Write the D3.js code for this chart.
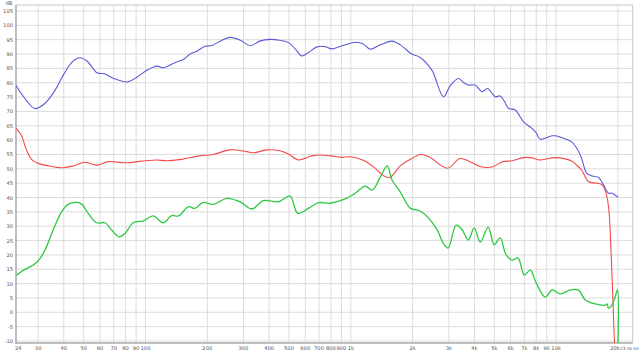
<!DOCTYPE html>
<html lang="en">
  <head>
    <meta charset="utf-8">
    <title>Frequency response</title>
    <script src="https://cdn.jsdelivr.net/npm/d3@7"></script>
    <style>
      body { margin: 0; background: #fff; }
      text { font-family: "DejaVu Sans", sans-serif; font-size: 5.2px; fill: #555; }
      .grid line { stroke: #dcdcdc; stroke-width: 1; }
      .trace { fill: none; stroke-linejoin: round; }
    </style>
  </head>
  <body>
    <script>
      // traces: frequency in Hz, level in dB
      var blueFreq = [23.4, 26.5, 28.9, 32, 36, 40, 44, 48, 52, 58, 63, 70, 82, 91, 103, 114, 122, 139, 152, 165, 178, 195, 211, 231, 258, 290, 323, 360, 404, 450, 500, 540, 577, 620, 684, 750, 808, 900, 1050, 1150, 1240, 1400, 1590, 1750, 1980, 2176, 2481, 2827, 3050, 3345, 3550, 3742, 4034, 4348, 4631, 4850, 5050, 5340, 5600, 5862, 6318, 6937, 7621, 8000, 8365, 9540, 9900, 11000, 11900, 12630, 13300, 14100, 15000, 16100, 17000, 18000, 18700, 20000];
      var blueDb   = [79, 73.5, 71, 72.5, 77, 83, 87.3, 88.7, 87.5, 83.5, 83.1, 81.5, 80.3, 82, 84.6, 85.8, 85.2, 87, 88, 90, 91, 92.7, 93, 94.5, 95.8, 94.8, 92.9, 94.5, 95.1, 94.8, 93.9, 91.5, 89.3, 90.5, 92.5, 92.6, 91.8, 92.8, 94.1, 93.5, 91.7, 93.3, 94.5, 93.1, 90, 88.8, 84.4, 75.1, 79, 81.5, 80, 79.2, 79.2, 76.9, 78, 76.5, 75.1, 75.4, 73.5, 71.1, 70.5, 66.4, 64.1, 62.5, 60.3, 61.5, 61.5, 60.5, 59.4, 57.1, 53.7, 48.4, 47.5, 47, 44.4, 41.5, 41.5, 40.1];

      var redFreq = [23.4, 24.8, 26.3, 28, 30, 34, 39.8, 44.5, 50.7, 57.8, 65.9, 79.5, 99.4, 113, 127, 150, 184, 214, 258, 311, 336, 390, 452, 497, 556, 644, 708, 800, 900, 1000, 1150, 1300, 1450, 1550, 1650, 1740, 1980, 2190, 2400, 2960, 3400, 3900, 4300, 4900, 5500, 6100, 6900, 7500, 8400, 9900, 11900, 12600, 13300, 14400, 15900, 16700, 17350, 18000, 18500, 18900, 19300, 19500];
      var redDb   = [64.1, 61.8, 56.6, 53.1, 51.9, 51, 50.4, 51, 52.3, 51.3, 52.5, 52.1, 52.8, 53.1, 52.8, 53.3, 54.5, 55, 56.6, 56, 55.6, 56.6, 56.3, 55.2, 53.1, 54.5, 54.8, 54.5, 54, 54.2, 53, 50.5, 47.5, 47, 49, 51, 53.6, 55, 54.2, 50.2, 53.6, 52.1, 50.7, 50.7, 52.5, 52.8, 53.9, 53.9, 53.1, 53.9, 52.7, 51.3, 49.6, 45.5, 45, 44.5, 42.5, 36.8, 21.7, 4.3, -12, -15];

      var greenFreq = [23.4, 25.5, 28.4, 30, 32.4, 35.5, 39.1, 42.1, 46.2, 48.9, 52.6, 57.8, 63.5, 68.4, 74.3, 79.5, 87.2, 97.6, 109, 122, 134, 145, 162, 174, 191, 214, 249, 289, 329, 375, 443, 506, 551, 621, 695, 793, 938, 1050, 1175, 1270, 1390, 1503, 1590, 1740, 1946, 2177, 2381, 2634, 2850, 2981, 3260, 3490, 3733, 3991, 4268, 4667, 4990, 5336, 5706, 6100, 6530, 6990, 7480, 8000, 8850, 9570, 10470, 11720, 12820, 13870, 15520, 17350, 17700, 18000, 18700, 19300, 19900, 19950];
      var greenDb   = [12.8, 14.7, 16.5, 17.9, 21.7, 28.7, 35.1, 37.7, 38.3, 37.7, 34.5, 31.2, 31.2, 28.7, 26.3, 27.5, 31.2, 31.9, 33.6, 31.2, 33.7, 33.6, 36.8, 36.2, 38.3, 37.6, 39.7, 38.5, 36, 38.9, 38.5, 40.5, 34.5, 36.2, 38.2, 38, 39.5, 41.5, 44, 42.6, 47, 51, 46, 42, 36.3, 35.3, 33, 28.7, 23.5, 22.4, 30.4, 28.7, 25.2, 29.4, 24.5, 29.7, 23.5, 25.9, 20, 18.2, 18.9, 13, 14.7, 10.2, 5.3, 7.8, 6.4, 7.8, 7.8, 4.3, 2.9, 2.5, 2.9, 1.4, 2.5, 4.9, 7.8, -15];

      var dbTicks = d3.range(-10, 106, 5);
      var freqTicks = [24, 30, 40, 50, 60, 70, 80, 90, 100, 200, 300, 400, 500, 600, 700, 800, 900, 1000, 2000, 3000, 4000, 5000, 6000, 7000, 8000, 9000, 10000, 20000];
      var freqLabels = ["24", "30", "40", "50", "60", "70", "80", "90", "100", "200", "300", "400", "500", "600", "700", "800", "900", "1k", "2k", "3k", "4k", "5k", "6k", "7k", "8k", "9k", "10k", "20k"];

      var width = 640, height = 352;
      var plotLeft = 16, plotRight = 632.7, plotTop = 5, plotBottom = 343;

      var svg = d3.select("body").append("svg")
                  .attr("width", width)
                  .attr("height", height);

      var x = d3.scaleLog().domain([23.4, 23600]).range([plotLeft, plotRight]);
      var y = d3.scaleLinear().domain([-10, 105]).range([341, 11]);

      svg.append("defs").append("clipPath").attr("id", "plotclip")
         .append("rect")
           .attr("x", plotLeft).attr("y", plotTop)
           .attr("width", plotRight - plotLeft).attr("height", plotBottom - plotTop);

      // grid
      var grid = svg.append("g").attr("class", "grid");
      grid.selectAll(".h").data(dbTicks).enter().append("line")
          .attr("x1", plotLeft).attr("x2", plotRight)
          .attr("y1", d => y(d)).attr("y2", d => y(d));
      grid.selectAll(".v").data(freqTicks.slice(1)).enter().append("line")
          .attr("x1", d => x(d)).attr("x2", d => x(d))
          .attr("y1", plotTop).attr("y2", plotBottom);

      // frame
      svg.append("line").attr("x1", plotLeft).attr("x2", plotRight).attr("y1", plotTop).attr("y2", plotTop)
         .attr("stroke", "#c8c8c8");
      svg.append("line").attr("x1", plotRight).attr("x2", plotRight).attr("y1", plotTop).attr("y2", plotBottom)
         .attr("stroke", "#c8c8c8");
      svg.append("line").attr("x1", plotLeft).attr("x2", plotLeft).attr("y1", plotTop).attr("y2", plotBottom + 1)
         .attr("stroke", "#a8a8a8").attr("stroke-width", 1.5);
      svg.append("line").attr("x1", plotLeft).attr("x2", plotRight).attr("y1", plotBottom).attr("y2", plotBottom)
         .attr("stroke", "#a8a8a8").attr("stroke-width", 1.5);

      // y labels
      svg.append("g").selectAll("text").data(dbTicks).enter().append("text")
         .attr("x", 13).attr("y", d => y(d) + 2)
         .attr("text-anchor", "end")
         .text(d => d);
      svg.append("text").attr("x", 9).attr("y", 4.5).attr("text-anchor", "middle").text("dB");

      // x labels
      svg.append("g").selectAll("text").data(freqTicks).enter().append("text")
         .attr("x", d => d == 20000 ? x(d) - 3 : x(d)).attr("y", 350)
         .attr("text-anchor", "middle")
         .text((d, i) => freqLabels[i]);
      svg.append("text").attr("x", 639).attr("y", 350)
         .attr("text-anchor", "end")
         .style("font-size", "4.3px")
         .text("23.5k Hz");

      var line = d3.line()
                   .x(d => x(d[0]))
                   .y(d => y(d[1]))
                   .curve(d3.curveCatmullRom.alpha(0.5));

      var traces = [
        {f: blueFreq, v: blueDb, c: "#5c5cd8", w: 1.1},
        {f: redFreq, v: redDb, c: "#f44848", w: 1.1},
        {f: greenFreq, v: greenDb, c: "#2dc842", w: 1.3}
      ];

      var plot = svg.append("g").attr("clip-path", "url(#plotclip)");
      traces.forEach(t => {
        plot.append("path")
            .attr("class", "trace")
            .attr("d", line(t.f.map((f, i) => [f, t.v[i]])))
            .attr("stroke", t.c)
            .attr("stroke-width", t.w);
      });
    </script>
  </body>
</html>
